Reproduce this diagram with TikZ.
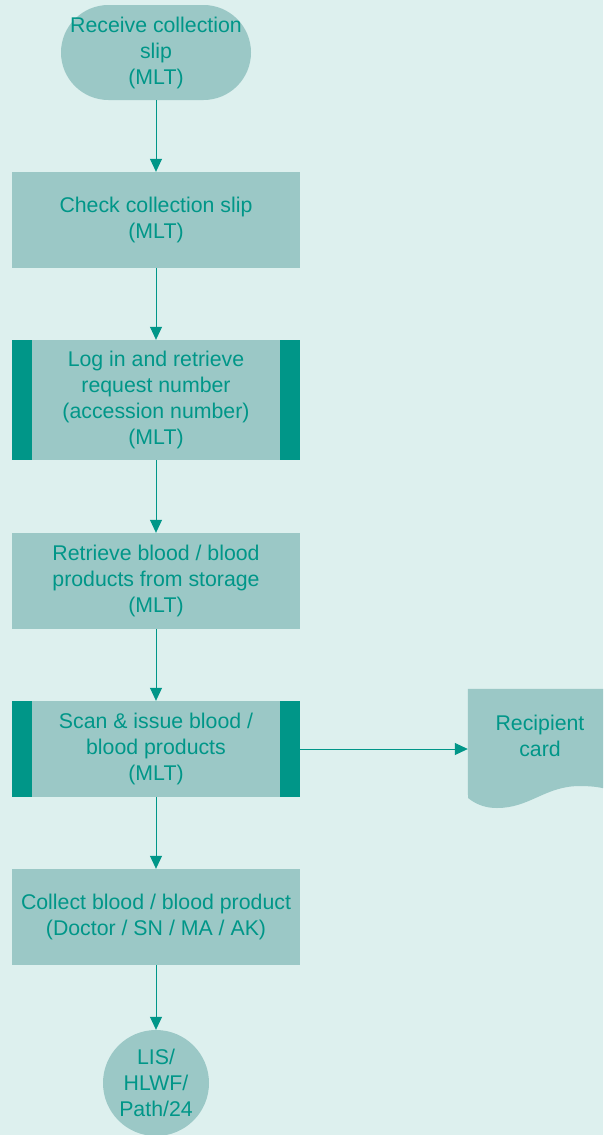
\documentclass[tikz,border=0pt]{standalone}
\usepackage{fontspec}
\setmainfont{Liberation Sans}
\usepackage{xcolor}
\usetikzlibrary{arrows.meta,positioning,calc}

\definecolor{pagebg}{RGB}{221,240,238}
\definecolor{boxfill}{RGB}{155,200,198}
\definecolor{tealink}{RGB}{0,150,136}

\begin{document}
\begin{tikzpicture}[x=1pt,y=-1pt,
    every node/.style={font=\fontsize{21.3}{26}\selectfont,text=tealink,align=center},
    stepbox/.style={rectangle,fill=boxfill,minimum width=288pt,minimum height=96pt,inner sep=0pt},
    subbox/.style={stepbox,minimum height=120pt,
        path picture={
            \fill[tealink] (path picture bounding box.south west) rectangle ([xshift=20pt]path picture bounding box.north west);
            \fill[tealink] (path picture bounding box.south east) rectangle ([xshift=-20pt]path picture bounding box.north east);
        }},
    termbox/.style={rectangle,rounded corners=47.5pt,fill=boxfill,minimum width=190pt,minimum height=95pt,inner sep=0pt},
    refcircle/.style={circle,fill=boxfill,minimum size=106pt,inner sep=0pt},
    flow/.style={tealink,line width=0.8pt,-{Triangle[length=13pt,width=12pt]}}]
\useasboundingbox (0,0) rectangle (603,1135);
\clip (0,0) rectangle (603,1135);
\fill[pagebg] (0,0) rectangle (603,1135);

% main column
\node[termbox] (receive) at (156,52.5) {Receive collection\\slip\\(MLT)};
\node[stepbox] (check) at (156,220) {Check collection slip\\(MLT)};
\node[subbox] (login) at (156,400) {Log in and retrieve\\request number\\(accession number)\\(MLT)};
\node[stepbox] (retrieve) at (156,581) {Retrieve blood / blood\\products from storage\\(MLT)};
\node[subbox,minimum height=96pt] (scan) at (156,749) {Scan \& issue blood /\\blood products\\(MLT)};
\node[stepbox] (collect) at (156,917) {Collect blood / blood product\\(Doctor / SN / MA / AK)};
\node[refcircle] (ref) at (156,1083) {LIS/\\HLWF/\\Path/24};

% document on the right
\node[rectangle,minimum width=144pt,minimum height=120pt,inner sep=0pt] (card) at (540,749) {};
\fill[boxfill] (card.north west) -- (card.north east) -- (612,791)
    .. controls (605,788) and (595,786) .. (580,786)
    .. controls (545,786) and (530,808) .. (497,808)
    .. controls (488,808) and (478,806) .. (468,798) -- cycle;
\node (cardtext) at (540,736) {Recipient\\card};

\draw[flow] (receive) -- (check);
\draw[flow] (check) -- (login);
\draw[flow] (login) -- (retrieve);
\draw[flow] (retrieve) -- (scan);
\draw[flow] (scan) -- (collect);
\draw[flow] (collect) -- (ref);
\draw[flow] (scan.east) -- (card.west);
\end{tikzpicture}
\end{document}
